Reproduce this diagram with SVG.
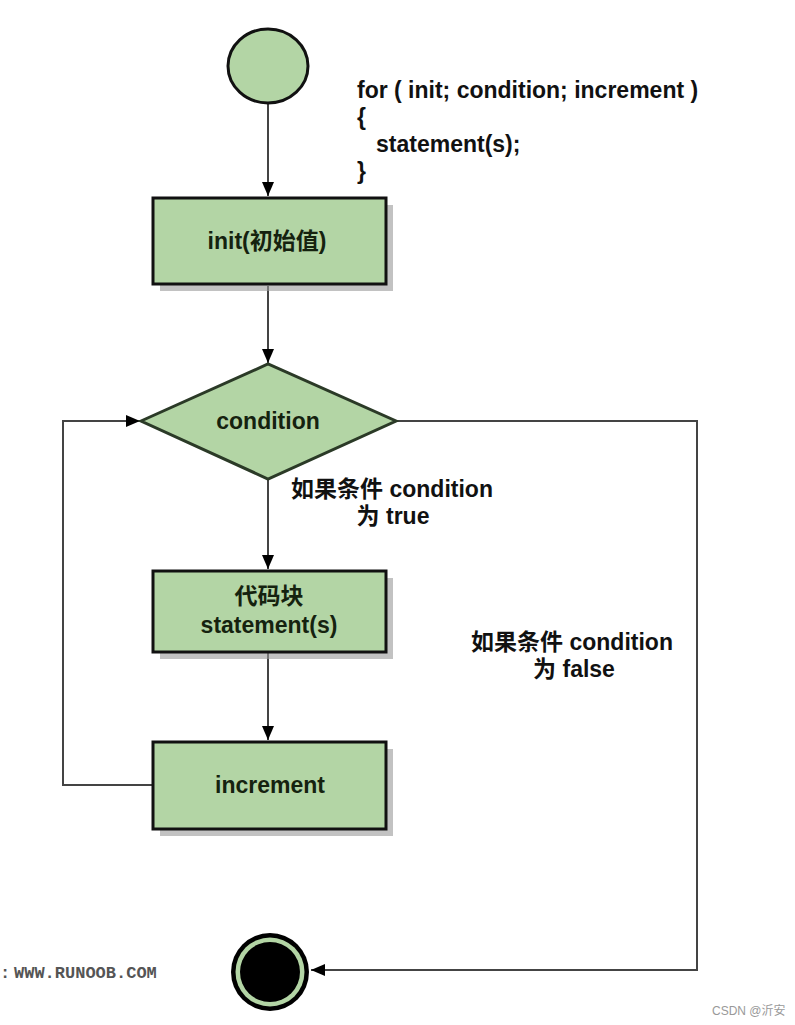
<svg xmlns="http://www.w3.org/2000/svg" width="795" height="1025" viewBox="0 0 795 1025">
<style>
.node{fill:#b3d5a5;stroke:#111;stroke-width:3}
.shadow{fill:#9a9a9a;opacity:0.6}
.lbl{font-family:"Liberation Sans","Noto Sans CJK SC",sans-serif;font-weight:bold;font-size:23px;fill:#15220f;text-anchor:middle}
.txt{font-family:"Liberation Sans","Noto Sans CJK SC",sans-serif;font-weight:bold;font-size:23px;fill:#111}
.conn{fill:none;stroke:#444;stroke-width:2}
.mono{font-family:"Liberation Mono",monospace;font-weight:bold;font-size:17px;fill:#555}
</style>
<defs>
<marker id="arr" viewBox="0 0 14 12" refX="14" refY="6" markerWidth="14" markerHeight="12" markerUnits="userSpaceOnUse" orient="auto">
<path d="M0,0 L14,6 L0,12 Z" fill="#000"/>
</marker>
</defs>
<rect width="795" height="1025" fill="#fff"/>
<g id="connectors">
<line class="conn" x1="268" y1="104" x2="268" y2="196" marker-end="url(#arr)"/>
<line class="conn" x1="268" y1="286" x2="268" y2="363" marker-end="url(#arr)"/>
<line class="conn" x1="268" y1="480" x2="268" y2="569" marker-end="url(#arr)"/>
<line class="conn" x1="268" y1="653" x2="268" y2="740" marker-end="url(#arr)"/>
<polyline class="conn" points="152,785 63,785 63,421 140,421" marker-end="url(#arr)" stroke="#666"/>
<polyline class="conn" points="396,421 697,421 697,970 311,970" marker-end="url(#arr)" stroke="#666"/>
</g>
<g id="start">
<ellipse cx="268" cy="66" rx="40" ry="37" class="node"/>
</g>
<g id="code">
<text class="txt" x="357" y="98">for ( init; condition; increment )</text>
<text class="txt" x="357" y="125">{</text>
<text class="txt" x="376" y="152">statement(s);</text>
<text class="txt" x="357" y="179">}</text>
</g>
<g id="init">
<rect x="160" y="205" width="233" height="86" class="shadow"/>
<rect x="153" y="198" width="233" height="86" class="node"/>
<text class="lbl" x="267" y="249">init(初始值)</text>
</g>
<g id="condition">
<polygon points="141,421 268,364 396,421 268,479" class="node" stroke-width="2.5" style="stroke:#2b3a27"/>
<text class="lbl" x="268" y="429">condition</text>
</g>
<g id="true-label">
<text class="txt" x="392" y="497" text-anchor="middle">如果条件 condition</text>
<text class="txt" x="393" y="524" text-anchor="middle">为 true</text>
</g>
<g id="statement">
<rect x="160" y="578" width="233" height="81" class="shadow"/>
<rect x="153" y="571" width="233" height="81" class="node"/>
<text class="lbl" x="269" y="604">代码块</text>
<text class="lbl" x="269" y="633">statement(s)</text>
</g>
<g id="increment">
<rect x="160" y="749" width="233" height="87" class="shadow"/>
<rect x="153" y="742" width="233" height="87" class="node"/>
<text class="lbl" x="270" y="793">increment</text>
</g>
<g id="false-label">
<text class="txt" x="572" y="650" text-anchor="middle">如果条件 condition</text>
<text class="txt" x="574" y="677" text-anchor="middle">为 false</text>
</g>
<g id="end">
<circle cx="270" cy="972" r="39" fill="#000"/>
<circle cx="270" cy="972" r="34.5" fill="#b3d5a5"/>
<circle cx="270" cy="972" r="30" fill="#000"/>
</g>
<text class="mono" x="0" y="978">:</text>
<text class="mono" x="14" y="978">WWW.RUNOOB.COM</text>
<text x="712" y="1015" font-family="Liberation Sans, Noto Sans CJK SC, sans-serif" font-size="12" fill="#999">CSDN @沂安</text>
</svg>
